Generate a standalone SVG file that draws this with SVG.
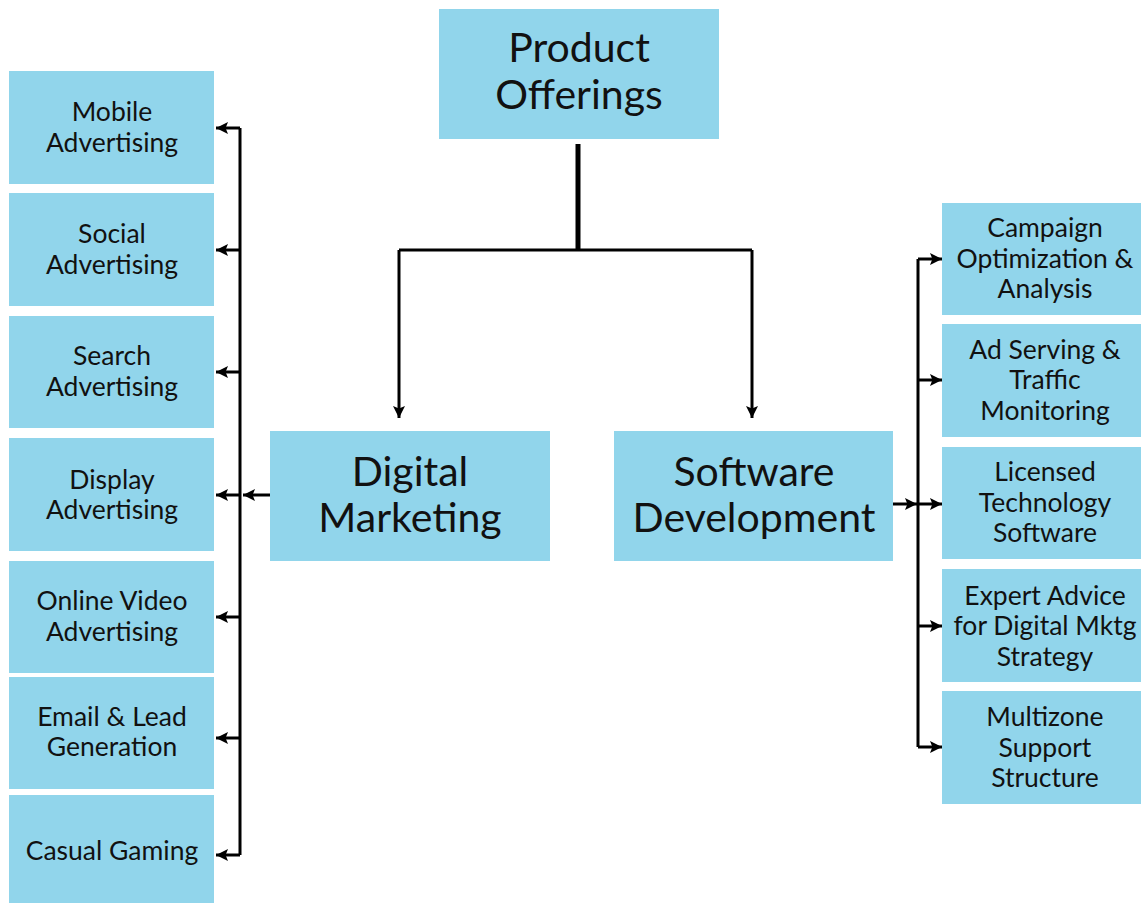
<svg xmlns="http://www.w3.org/2000/svg" width="1141" height="903" viewBox="0 0 1141 903">
  <style>
    .box { fill: #91D5EB; }
    .t { font-family: Lato, "Open Sans", "Liberation Sans", sans-serif; fill: #111; text-anchor: middle; }
    .s { font-size: 26.5px; }
    .m { font-size: 41px; }
    .ln { stroke: #000; stroke-width: 3; fill: none; }
  </style>
  <defs>
    <marker id="ah" viewBox="0 0 10 10" refX="10" refY="5" markerWidth="4" markerHeight="4" orient="auto" markerUnits="strokeWidth">
      <path d="M0,0 L10,5 L0,10 L2,5 Z" fill="#000"/>
    </marker>
  </defs>
  <rect width="1141" height="903" fill="#fff"/>

  <g id="connectors">
    <!-- trunk and branch to the two divisions -->
    <path class="ln" d="M578,144 V250" style="stroke-width:5"/>
    <path class="ln" d="M399,250 H752"/>
    <path class="ln" d="M399,250 V418" marker-end="url(#ah)"/>
    <path class="ln" d="M752,250 V418" marker-end="url(#ah)"/>
    <!-- left spine -->
    <path class="ln" d="M240,128 V855"/>
    <path class="ln" d="M240,128 H216" marker-end="url(#ah)"/>
    <path class="ln" d="M240,250 H216" marker-end="url(#ah)"/>
    <path class="ln" d="M240,372 H216" marker-end="url(#ah)"/>
    <path class="ln" d="M240,495 H216" marker-end="url(#ah)"/>
    <path class="ln" d="M240,617 H216" marker-end="url(#ah)"/>
    <path class="ln" d="M240,738 H216" marker-end="url(#ah)"/>
    <path class="ln" d="M240,855 H216" marker-end="url(#ah)"/>
    <path class="ln" d="M270,495 H243" marker-end="url(#ah)"/>
    <!-- right spine -->
    <path class="ln" d="M918,259 V747"/>
    <path class="ln" d="M893,504 H917" marker-end="url(#ah)"/>
    <path class="ln" d="M918,259 H942" marker-end="url(#ah)"/>
    <path class="ln" d="M918,380 H942" marker-end="url(#ah)"/>
    <path class="ln" d="M918,504 H942" marker-end="url(#ah)"/>
    <path class="ln" d="M918,626 H942" marker-end="url(#ah)"/>
    <path class="ln" d="M918,747 H942" marker-end="url(#ah)"/>
  </g>

  <g id="product-offerings">
    <rect class="box" x="439" y="9" width="280" height="130"/>
    <text class="t m" x="579" y="62">Product</text>
    <text class="t m" x="579" y="109">Offerings</text>
  </g>
  <g id="digital-marketing">
    <rect class="box" x="270" y="431" width="280" height="130"/>
    <text class="t m" x="410" y="486">Digital</text>
    <text class="t m" x="410" y="532">Marketing</text>
  </g>
  <g id="software-development">
    <rect class="box" x="614" y="431" width="279" height="130"/>
    <text class="t m" x="754" y="486">Software</text>
    <text class="t m" x="754" y="532">Development</text>
  </g>

  <g id="mobile-advertising">
    <rect class="box" x="9" y="71" width="205" height="113"/>
    <text class="t s" x="112" y="121">Mobile</text>
    <text class="t s" x="112" y="152">Advertising</text>
  </g>
  <g id="social-advertising">
    <rect class="box" x="9" y="193" width="205" height="113"/>
    <text class="t s" x="112" y="243">Social</text>
    <text class="t s" x="112" y="274">Advertising</text>
  </g>
  <g id="search-advertising">
    <rect class="box" x="9" y="316" width="205" height="112"/>
    <text class="t s" x="112" y="365">Search</text>
    <text class="t s" x="112" y="396">Advertising</text>
  </g>
  <g id="display-advertising">
    <rect class="box" x="9" y="438" width="205" height="113"/>
    <text class="t s" x="112" y="489">Display</text>
    <text class="t s" x="112" y="519">Advertising</text>
  </g>
  <g id="online-video-advertising">
    <rect class="box" x="9" y="561" width="205" height="112"/>
    <text class="t s" x="112" y="610">Online Video</text>
    <text class="t s" x="112" y="641">Advertising</text>
  </g>
  <g id="email-lead-generation">
    <rect class="box" x="9" y="677" width="205" height="112"/>
    <text class="t s" x="112" y="726">Email &amp; Lead</text>
    <text class="t s" x="112" y="756">Generation</text>
  </g>
  <g id="casual-gaming">
    <rect class="box" x="9" y="795" width="205" height="108"/>
    <text class="t s" x="112" y="860">Casual Gaming</text>
  </g>

  <g id="campaign-optimization">
    <rect class="box" x="942" y="203" width="199" height="112"/>
    <text class="t s" x="1045" y="237">Campaign</text>
    <text class="t s" x="1045" y="268">Optimization &amp;</text>
    <text class="t s" x="1045" y="298">Analysis</text>
  </g>
  <g id="ad-serving">
    <rect class="box" x="942" y="324" width="199" height="113"/>
    <text class="t s" x="1045" y="359">Ad Serving &amp;</text>
    <text class="t s" x="1045" y="389">Traffic</text>
    <text class="t s" x="1045" y="420">Monitoring</text>
  </g>
  <g id="licensed-technology">
    <rect class="box" x="942" y="447" width="199" height="112"/>
    <text class="t s" x="1045" y="481">Licensed</text>
    <text class="t s" x="1045" y="512">Technology</text>
    <text class="t s" x="1045" y="542">Software</text>
  </g>
  <g id="expert-advice">
    <rect class="box" x="942" y="569" width="199" height="113"/>
    <text class="t s" x="1045" y="605">Expert Advice</text>
    <text class="t s" x="1045" y="635">for Digital Mktg</text>
    <text class="t s" x="1045" y="666">Strategy</text>
  </g>
  <g id="multizone-support">
    <rect class="box" x="942" y="691" width="199" height="113"/>
    <text class="t s" x="1045" y="726">Multizone</text>
    <text class="t s" x="1045" y="757">Support</text>
    <text class="t s" x="1045" y="787">Structure</text>
  </g>
</svg>
